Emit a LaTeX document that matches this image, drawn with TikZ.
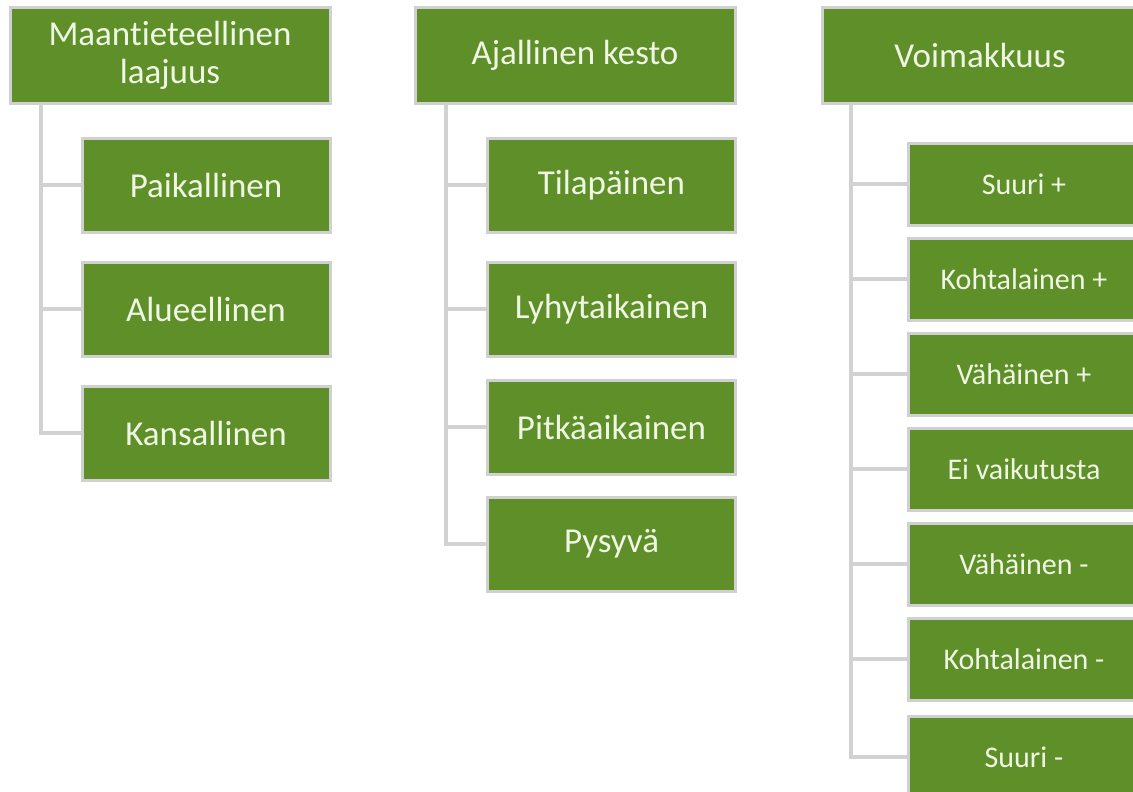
\documentclass[tikz,border=0pt]{standalone}
\usepackage{fontspec}
\setmainfont{Carlito}[Ligatures={NoCommon}]
\usetikzlibrary{calc}
\definecolor{boxgreen}{RGB}{94,143,40}
\definecolor{boxedge}{RGB}{208,208,208}
\definecolor{linegray}{RGB}{210,210,210}
\definecolor{textcream}{RGB}{240,246,228}
\tikzset{
  gbox/.style={draw=boxedge, line width=3pt, fill=boxgreen, text=textcream,
    align=center, inner sep=0pt, font=\fontsize{35}{38}\selectfont},
  parentbox/.style={gbox, minimum width=320pt, minimum height=95pt},
  childbox/.style={gbox, minimum width=248pt, minimum height=94pt},
  smallbox/.style={gbox, minimum width=232pt, minimum height=82pt, font=\fontsize{30}{34}\selectfont},
  conn/.style={draw=linegray, line width=4pt}
}
\begin{document}
\begin{tikzpicture}[x=1pt,y=1pt]
\useasboundingbox (0,0) rectangle (1133,-792);
\clip (0,0) rectangle (1133,-792);
% column 1
\node[parentbox] (p1) at (170,-55.5) {Maantieteellinen\\laajuus};
\node[childbox] (c11) at (206,-185) {Paikallinen};
\node[childbox] (c12) at (206,-309) {Alueellinen};
\node[childbox] (c13) at (206,-433) {Kansallinen};
% column 2
\node[parentbox] (p2) at (575,-55.5) {Ajallinen kesto};
\node[childbox] (c21) at (611.5,-185) {Tilapäinen};
\node[childbox] (c22) at (611.5,-309) {Lyhytaikainen};
\node[childbox] (c23) at (611.5,-427) {Pitkäaikainen};
\node[childbox] (c24) at (611.5,-544) {Pysyvä};
% column 3
\node[parentbox, minimum width=316pt] (p3) at (980,-55.5) {Voimakkuus};
\node[smallbox] (c31) at (1024,-184) {Suuri +};
\node[smallbox] (c32) at (1024,-279) {Kohtalainen +};
\node[smallbox] (c33) at (1024,-374) {Vähäinen +};
\node[smallbox] (c34) at (1024,-469) {Ei vaikutusta};
\node[smallbox] (c35) at (1024,-564) {Vähäinen -};
\node[smallbox] (c36) at (1024,-659) {Kohtalainen -};
\node[smallbox] (c37) at (1024,-757) {Suuri -};
% connectors
\foreach \c in {c11,c12,c13}{\draw[conn] ($(p1.south west)+(32,0)$) |- (\c.west);}
\foreach \c in {c21,c22,c23,c24}{\draw[conn] ($(p2.south west)+(32,0)$) |- (\c.west);}
\foreach \c in {c31,c32,c33,c34,c35,c36,c37}{\draw[conn] ($(p3.south west)+(30,0)$) |- (\c.west);}
\end{tikzpicture}
\end{document}
